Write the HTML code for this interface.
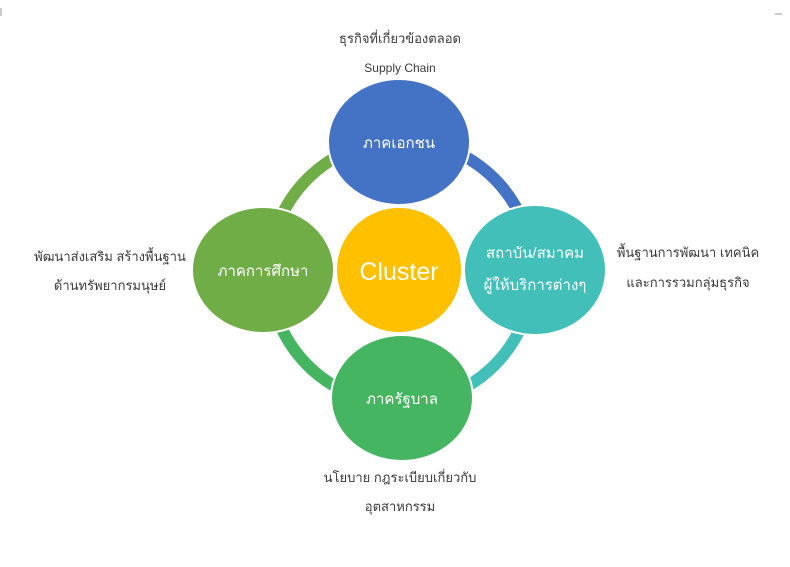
<!DOCTYPE html>
<html><head><meta charset="utf-8"><style>
body{margin:0;background:#fff;width:790px;height:562px;overflow:hidden}
text{font-family:"Liberation Sans","Noto Sans CJK SC",sans-serif}
</style></head><body>
<svg width="790" height="562" xmlns="http://www.w3.org/2000/svg">
<line x1="1" y1="8" x2="1" y2="16" stroke="#999"/>
<line x1="775" y1="14" x2="782" y2="14" stroke="#999"/>
<g fill="none" stroke-width="12">
<path d="M401 140 A132 132 0 0 1 533 272" stroke="#4472c4"/>
<path d="M533 272 A132 132 0 0 1 401 404" stroke="#43bfb9"/>
<path d="M401 404 A132 132 0 0 1 269 272" stroke="#45b562"/>
<path d="M269 272 A132 132 0 0 1 401 140" stroke="#70ad47"/>
</g>
<g stroke="#fff" stroke-width="2">
<ellipse cx="399" cy="142" rx="71" ry="63" fill="#4472c4"/>
<ellipse cx="535" cy="270" rx="71" ry="65" fill="#43bfb9"/>
<ellipse cx="402" cy="398" rx="71" ry="63" fill="#45b562"/>
<ellipse cx="263" cy="270" rx="71" ry="63" fill="#70ad47"/>
<circle cx="399" cy="270" r="63" fill="#ffc000"/>
</g>
<g fill="#fff" text-anchor="middle" font-size="15">
<text x="399" y="148">ภาคเอกชน</text>
<text x="535" y="258">สถาบัน/สมาคม</text>
<text x="535" y="290">ผู้ให้บริการต่างๆ</text>
<text x="402" y="404">ภาครัฐบาล</text>
<text x="263" y="276">ภาคการศึกษา</text>
<text x="399" y="280" font-size="25">Cluster</text>
</g>
<g fill="#3a3a3a" text-anchor="middle" font-size="13">
<text x="400" y="43">ธุรกิจที่เกี่ยวข้องตลอด</text>
<text x="400" y="72" font-size="12">Supply Chain</text>
<text x="110" y="261">พัฒนาส่งเสริม สร้างพื้นฐาน</text>
<text x="110" y="290">ด้านทรัพยากรมนุษย์</text>
<text x="688" y="257">พื้นฐานการพัฒนา เทคนิค</text>
<text x="688" y="287">และการรวมกลุ่มธุรกิจ</text>
<text x="400" y="482">นโยบาย กฎระเบียบเกี่ยวกับ</text>
<text x="400" y="511">อุตสาหกรรม</text>
</g>
</svg>
</body></html>
